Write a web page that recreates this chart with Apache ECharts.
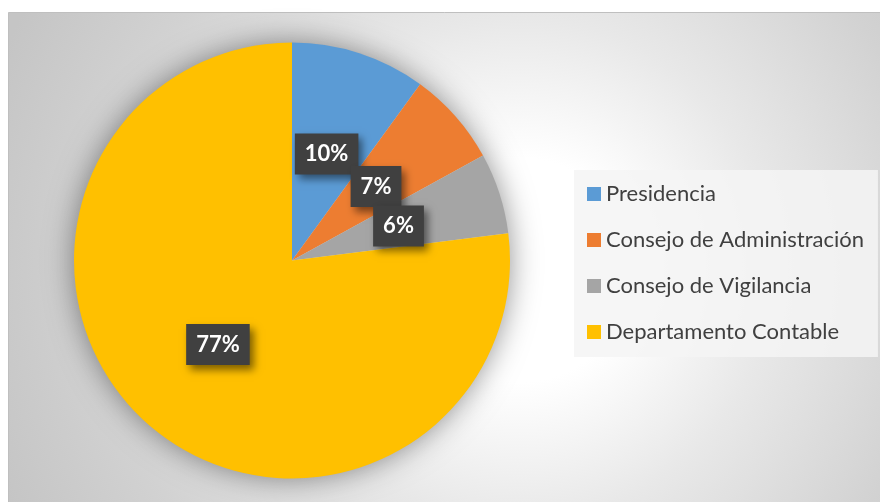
<!DOCTYPE html>
<html>
<head>
<meta charset="utf-8">
<style>
  html, body { margin: 0; padding: 0; background: #ffffff; }
  #chart { width: 880px; height: 502px; }
</style>
<script src="https://cdn.jsdelivr.net/npm/echarts@6/dist/echarts.min.js"></script>
</head>
<body>
<div id="chart"></div>
<script>
// Distribución por área (porcentajes)
const categories = ['Presidencia', 'Consejo de Administración', 'Consejo de Vigilancia', 'Departamento Contable'];
const shares = [10, 7, 6, 77];
const sliceColors = ['#5b9bd5', '#ed7d31', '#a5a5a5', '#ffc000'];

const chart = echarts.init(document.getElementById('chart'), null, { renderer: 'canvas' });

const pieData = categories.map((name, i) => ({
  name: name,
  value: shares[i],
  itemStyle: { color: sliceColors[i] }
}));

chart.setOption({
  animation: false,
  backgroundColor: '#ffffff',
  graphic: [{
    type: 'rect',
    z: -10,
    silent: true,
    shape: { x: 8.5, y: 12.5, width: 900, height: 520 },
    style: {
      fill: {
        type: 'radial', x: 520, y: 270, r: 560, global: true,
        colorStops: [
          { offset: 0, color: '#ffffff' },
          { offset: 0.2, color: '#ffffff' },
          { offset: 0.45, color: '#e8e8e8' },
          { offset: 0.75, color: '#d2d2d2' },
          { offset: 1, color: '#c5c5c5' }
        ]
      },
      stroke: '#bfbfbf',
      lineWidth: 1
    }
  }],
  legend: {
    orient: 'vertical',
    left: 574,
    top: 170,
    padding: [13, 14, 14, 13],
    backgroundColor: 'rgba(244,244,244,0.85)',
    itemWidth: 14,
    itemHeight: 14,
    itemGap: 24,
    icon: 'rect',
    data: categories,
    textStyle: {
      fontFamily: 'Lato',
      fontSize: 22,
      lineHeight: 21,
      color: '#404040'
    }
  },
  series: [
    {
      // soft shadow under the whole pie
      type: 'pie',
      silent: true,
      z: 1,
      center: [292, 260.5],
      radius: 217,
      startAngle: 90,
      label: { show: false },
      labelLine: { show: false },
      itemStyle: {
        color: '#d8d8d8',
        shadowBlur: 30,
        shadowColor: 'rgba(0,0,0,0.45)'
      },
      data: [{ value: 1, name: '' }]
    },
    {
      type: 'pie',
      z: 2,
      center: [292, 260.5],
      radius: 218,
      startAngle: 90,
      clockwise: true,
      avoidLabelOverlap: false,
      labelLayout: { hideOverlap: false },
      emphasis: { disabled: true },
      label: {
        show: true,
        position: 'inside',
        formatter: p => p.value + '%',
        fontFamily: 'Lato',
        fontWeight: 'bold',
        fontSize: 22,
        lineHeight: 23,
        color: '#ffffff',
        backgroundColor: '#404040',
        padding: [9, 10],
        shadowBlur: 8,
        shadowColor: 'rgba(0,0,0,0.5)',
        shadowOffsetX: 4,
        shadowOffsetY: 5
      },
      labelLine: { show: false },
      data: pieData
    }
  ]
});
</script>
</body>
</html>
